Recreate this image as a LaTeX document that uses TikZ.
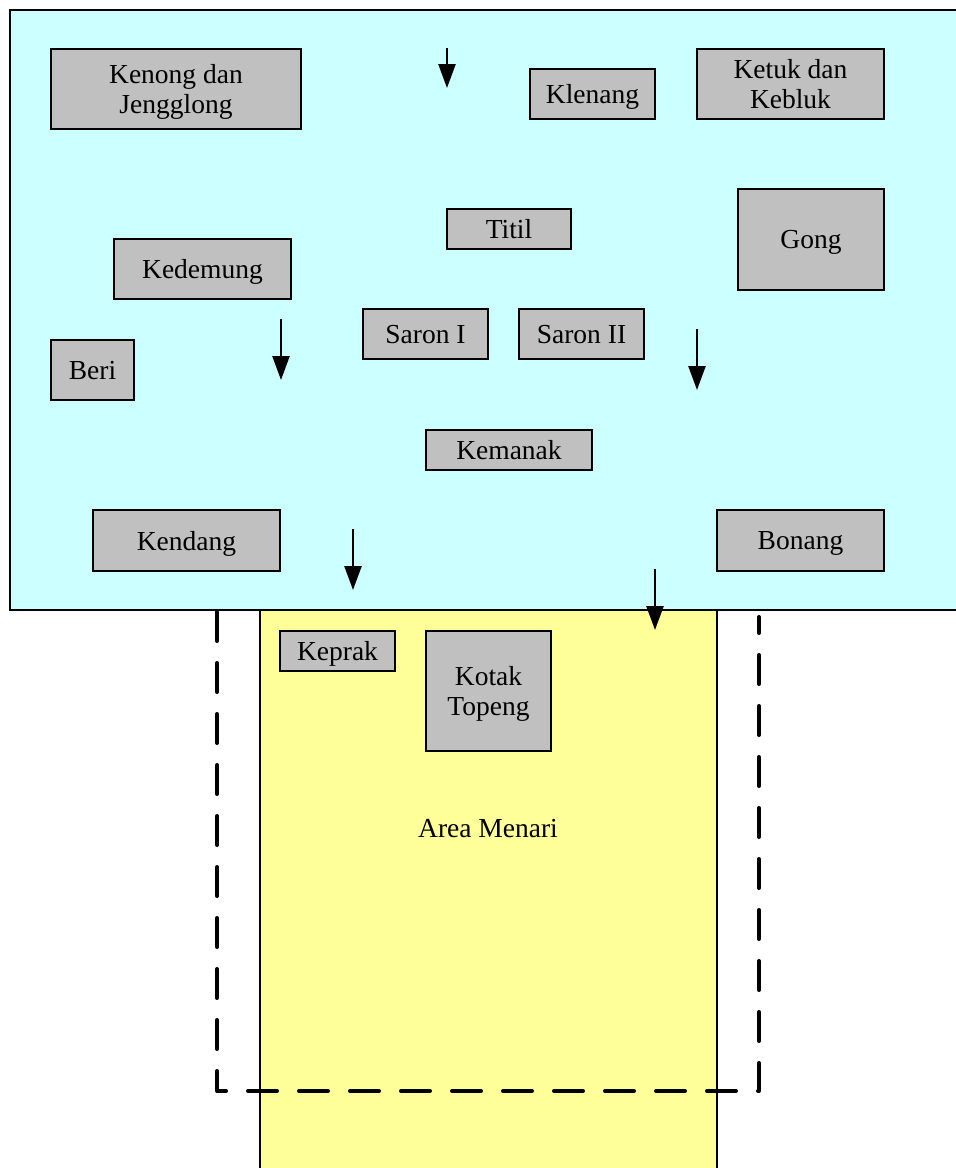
\documentclass[tikz,border=0pt]{standalone}
\usepackage{fontspec}
\setmainfont{Liberation Serif}
\usetikzlibrary{arrows.meta}
\definecolor{cyanbg}{HTML}{CCFFFF}
\definecolor{yellowbg}{HTML}{FFFF99}
\definecolor{boxgray}{HTML}{C0C0C0}
\tikzset{
  box/.style={draw=black, line width=1.2pt, fill=boxgray, inner sep=0pt, align=center,
    text depth=0pt, font=\fontsize{27.5}{30}\selectfont},
  arr/.style={line width=2.5pt, -{Triangle[width=17pt,length=24pt]}},
  dashborder/.style={line width=4pt, line cap=round, line join=round, dash pattern=on 29pt off 22pt}
}
\begin{document}
\begin{tikzpicture}[x=1pt,y=-1pt]
\useasboundingbox (0,0) rectangle (956,1168);
% areas
\draw[fill=yellowbg, line width=1.2pt] (260,610) rectangle (717,1175);
\draw[fill=cyanbg, line width=1.2pt] (10,10) rectangle (960,610);
% boxes
\node[box, minimum width=250pt, minimum height=80pt] (kenong) at (176,89) {Kenong dan\\Jengglong};
\node[box, minimum width=125pt, minimum height=50pt] (klenang) at (592.5,94) {Klenang};
\node[box, minimum width=187pt, minimum height=70pt] (ketuk) at (790.5,84) {Ketuk dan\\Kebluk};
\node[box, minimum width=124pt, minimum height=40pt] (titil) at (509,229) {Titil};
\node[box, minimum width=146pt, minimum height=101pt] (gong) at (811,239.5) {Gong};
\node[box, minimum width=177pt, minimum height=60pt] (kedemung) at (202.5,269) {Kedemung};
\node[box, minimum width=125pt, minimum height=50pt] (saron1) at (425.5,334) {Saron I};
\node[box, minimum width=125pt, minimum height=50pt] (saron2) at (581.5,334) {Saron II};
\node[box, minimum width=83pt, minimum height=60pt] (beri) at (92.5,370) {Beri};
\node[box, minimum width=166pt, minimum height=40pt] (kemanak) at (509,450) {Kemanak};
\node[box, minimum width=187pt, minimum height=61pt] (kendang) at (186.5,540.5) {Kendang};
\node[box, minimum width=167pt, minimum height=61pt] (bonang) at (800.5,540.5) {Bonang};
\node[box, minimum width=115pt, minimum height=40pt] (keprak) at (337.5,651) {Keprak};
\node[box, minimum width=125pt, minimum height=120pt] (kotak) at (488.5,691) {Kotak\\Topeng};
\node[font=\fontsize{27.5}{30}\selectfont] (area) at (488,829) {Area Menari};
% dashed border
\coordinate (d1) at (217,612);
\coordinate (d2) at (217,1091);
\coordinate (d3) at (759,1091);
\coordinate (d4) at (759,617);
\draw[dashborder] (d1) -- (d2) -- (d3) -- (d4);
% arrows
\coordinate (a1s) at (447,48);  \coordinate (a1e) at (447,88);
\coordinate (a2s) at (281,319); \coordinate (a2e) at (281,380);
\coordinate (a3s) at (697,329); \coordinate (a3e) at (697,390);
\coordinate (a4s) at (353,529); \coordinate (a4e) at (353,590);
\coordinate (a5s) at (655,569); \coordinate (a5e) at (655,630);
\draw[arr] (a1s) -- (a1e);
\draw[arr] (a2s) -- (a2e);
\draw[arr] (a3s) -- (a3e);
\draw[arr] (a4s) -- (a4e);
\draw[arr] (a5s) -- (a5e);
\end{tikzpicture}
\end{document}
